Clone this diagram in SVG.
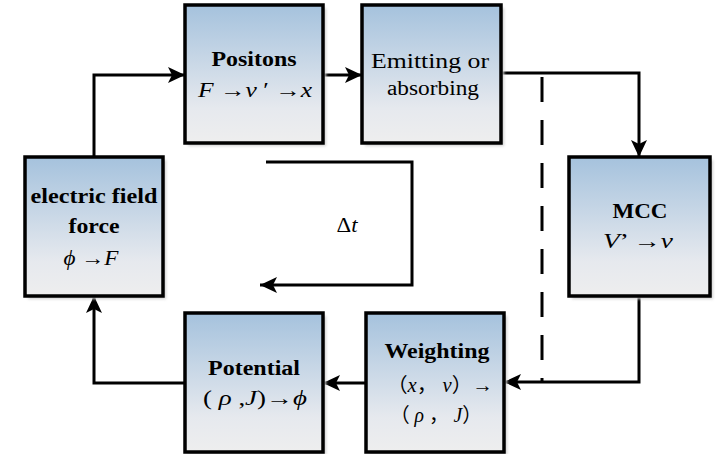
<svg xmlns="http://www.w3.org/2000/svg" width="716" height="454" viewBox="0 0 716 454">
<defs>
<linearGradient id="g" x1="0" y1="0" x2="0" y2="1">
<stop offset="0" stop-color="#a5c2dd"/>
<stop offset="0.75" stop-color="#e6e9ee"/>
<stop offset="1" stop-color="#eeeeee"/>
</linearGradient>
<marker id="ah" markerUnits="userSpaceOnUse" markerWidth="18" markerHeight="16" refX="17" refY="8" orient="auto">
<path d="M0 0 L17 8 L0 16 L4 8 Z" fill="#000"/>
</marker>
<filter id="sh" x="-10%" y="-10%" width="130%" height="130%">
<feGaussianBlur stdDeviation="1.5"/>
</filter>
</defs>
<style>
.box{fill:url(#g);stroke:#000;stroke-width:3.5}
.shd{fill:#cfcfcf;filter:url(#sh)}
.t{font-family:"Liberation Serif","Times New Roman",serif;font-size:20px;text-anchor:middle;fill:#000}
.b{font-weight:bold}
.i{font-style:italic}
.cjk{font-family:"Liberation Serif","Noto Sans CJK SC",serif}
.c{fill:none;stroke:#000;stroke-width:3}
.d{fill:none;stroke:#000;stroke-width:3;stroke-dasharray:25 18}
</style>
<g id="connectors">
<path class="c" d="M94 157 V75 H185" marker-end="url(#ah)"/>
<path class="c" d="M323 75 H362" marker-end="url(#ah)"/>
<path class="c" d="M501 73 H639 V157" marker-end="url(#ah)"/>
<path class="c" d="M639 296 V382 H504" marker-end="url(#ah)"/>
<path class="c" d="M366 383 H323" marker-end="url(#ah)"/>
<path class="c" d="M185 383 H94 V296" marker-end="url(#ah)"/>
<path class="c" d="M266 162 H412 V285 H260" marker-end="url(#ah)"/>
<path class="d" d="M542 77 V382"/>
<text class="t" x="347" y="232" textLength="21" lengthAdjust="spacingAndGlyphs">Δ<tspan class="i">t</tspan></text>
</g>
<g id="positons">
<rect class="shd" x="188" y="8" width="138" height="138"/>
<rect class="box" x="185" y="5" width="138" height="138"/>
<text class="t b" x="254" y="66" textLength="85" lengthAdjust="spacingAndGlyphs">Positons</text>
<text class="t" x="255" y="97" textLength="114" lengthAdjust="spacingAndGlyphs"><tspan class="i">F</tspan>  →<tspan class="i">v</tspan> ′ →<tspan class="i">x</tspan></text>
</g>
<g id="emitting">
<rect class="shd" x="365" y="8" width="139" height="138"/>
<rect class="box" x="362" y="5" width="139" height="138"/>
<text class="t" x="430" y="68" textLength="118" lengthAdjust="spacingAndGlyphs">Emitting or</text>
<text class="t" x="433" y="95" textLength="92" lengthAdjust="spacingAndGlyphs">absorbing</text>
</g>
<g id="electric">
<rect class="shd" x="28" y="160" width="138" height="139"/>
<rect class="box" x="25" y="157" width="138" height="139"/>
<text class="t b" x="94" y="203" textLength="127" lengthAdjust="spacingAndGlyphs">electric field</text>
<text class="t b" x="94" y="233" textLength="51" lengthAdjust="spacingAndGlyphs">force</text>
<text class="t" x="91" y="265" textLength="55" lengthAdjust="spacingAndGlyphs"><tspan class="i">ϕ</tspan> →<tspan class="i">F</tspan></text>
</g>
<g id="mcc">
<rect class="shd" x="572" y="160" width="141" height="139"/>
<rect class="box" x="569" y="157" width="141" height="139"/>
<text class="t b" x="640" y="218" textLength="55" lengthAdjust="spacingAndGlyphs">MCC</text>
<text class="t" x="638" y="248" textLength="70" lengthAdjust="spacingAndGlyphs"><tspan class="i">V</tspan>’ →<tspan class="i">v</tspan></text>
</g>
<g id="potential">
<rect class="shd" x="188" y="316" width="138" height="139"/>
<rect class="box" x="185" y="313" width="138" height="139"/>
<text class="t b" x="254" y="375" textLength="92" lengthAdjust="spacingAndGlyphs">Potential</text>
<text class="t" x="255" y="405" textLength="104" lengthAdjust="spacingAndGlyphs">( <tspan class="i">ρ</tspan> ,<tspan class="i">J</tspan>)→<tspan class="i">ϕ</tspan></text>
</g>
<g id="weighting">
<rect class="shd" x="369" y="316" width="138" height="139"/>
<rect class="box" x="366" y="313" width="138" height="139"/>
<text class="t b" x="437" y="358" textLength="105" lengthAdjust="spacingAndGlyphs">Weighting</text>
<text class="t cjk" x="440" y="392" textLength="106" lengthAdjust="spacingAndGlyphs">（<tspan class="i">x</tspan>， <tspan class="i">v</tspan>）→</text>
<text class="t cjk" x="436" y="422" textLength="92" lengthAdjust="spacingAndGlyphs">（ <tspan class="i">ρ</tspan> ， <tspan class="i">J</tspan>）</text>
</g>
</svg>
